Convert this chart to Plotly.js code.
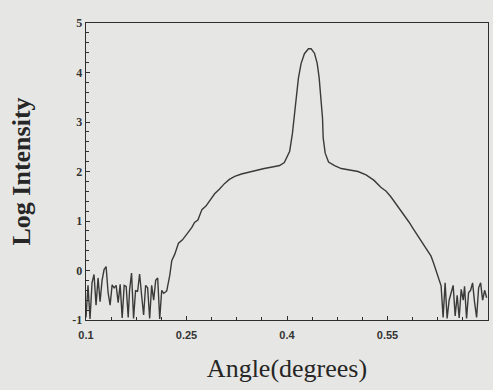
<!DOCTYPE html>
<html>
<head>
<meta charset="utf-8">
<script src="https://cdn.plot.ly/plotly-3.0.1.min.js"></script>
<style>
html,body{margin:0;padding:0;background:#e6e7e4;}
#chart{width:493px;height:390px;}
</style>
</head>
<body>
<div id="chart"></div>
<script>
// Angle (degrees) and log intensity
const angle = [
  0.100,0.103,0.106,0.109,0.112,0.115,0.118,0.121,0.124,0.127,
  0.130,0.133,0.136,0.139,0.142,0.145,0.148,0.151,0.154,0.157,
  0.160,0.163,0.165,0.168,0.171,0.174,0.177,0.180,0.183,0.186,
  0.189,0.192,0.195,0.198,0.201,0.204,0.207,0.210,0.213,0.216,
  0.219,0.2205,0.225,0.228,0.2325,0.238,0.244,0.249,0.253,0.258,
  0.262,0.267,0.273,0.279,0.285,0.292,0.299,0.307,0.314,0.322,
  0.332,0.343,0.354,0.366,0.378,0.389,0.396,0.404,0.408,0.411,
  0.414,0.417,0.421,0.426,0.432,0.436,0.441,0.445,0.448,0.451,
  0.453,0.454,0.457,0.462,0.471,0.481,0.491,0.506,0.518,0.530,
  0.540,0.548,0.555,0.564,0.575,0.582,0.588,0.596,0.602,0.607,
  0.615,0.619,0.625,0.630,0.633,0.636,0.639,0.642,0.645,0.648,
  0.651,0.654,0.657,0.660,0.663,0.665,0.668,0.671,0.674,0.677,
  0.680,0.683,0.686,0.689,0.692,0.695,0.698
];
const logIntensity = [
  -0.95,-0.30,-0.98,-0.25,-0.08,-0.70,-0.15,-0.63,-0.20,0.02,
  0.08,-0.45,-0.70,-0.29,-0.35,-0.30,-0.65,-0.28,-0.96,-0.30,
  -0.32,-0.95,-0.40,-0.05,-0.97,-0.40,-0.43,-0.07,-0.50,-0.90,
  -0.30,-0.35,-0.97,-0.30,-0.60,-0.20,-0.15,-0.98,-0.40,-0.46,
  -0.43,-0.41,-0.10,0.20,0.33,0.55,0.62,0.72,0.78,0.87,
  0.97,1.02,1.23,1.30,1.42,1.55,1.64,1.76,1.84,1.90,
  1.95,1.99,2.03,2.06,2.09,2.12,2.18,2.41,2.76,3.17,
  3.58,3.88,4.18,4.38,4.48,4.48,4.39,4.19,3.89,3.48,
  3.08,2.68,2.37,2.19,2.12,2.06,2.04,2.00,1.93,1.82,
  1.68,1.60,1.49,1.32,1.13,0.98,0.85,0.69,0.56,0.45,
  0.29,0.14,-0.11,-0.31,-0.95,-0.25,-0.97,-0.60,-0.45,-0.30,
  -0.92,-0.50,-0.96,-0.38,-0.60,-0.32,-0.97,-0.45,-0.40,-0.25,
  -0.65,-0.95,-0.35,-0.25,-0.60,-0.40,-0.55
];
const xTickVals = [0.1, 0.25, 0.4, 0.55, 0.7];
const xTickText = ["0.1", "0.25", "0.4", "0.55", "0.7"];
const yTickVals = [-1, 0, 1, 2, 3, 4, 5];
const yTickText = ["-1", "0", "1", "2", "3", "4", "5"];

const trace = {
  x: angle, y: logIntensity, type: 'scatter', mode: 'lines',
  line: {color: '#3a3a3a', width: 1.4}, hoverinfo: 'skip'
};
const axisCommon = {
  showgrid: false, zeroline: false, showline: true, mirror: true,
  linecolor: '#2e2e2e', linewidth: 1.3, ticks: 'inside', ticklen: 4,
  tickcolor: '#2e2e2e', tickwidth: 1
};
const layout = {
  width: 493, height: 390,
  paper_bgcolor: '#e6e7e4', plot_bgcolor: '#e6e7e4',
  margin: {l: 86, r: 5, t: 23, b: 70},
  showlegend: false,
  xaxis: Object.assign({}, axisCommon, {
    range: [0.1, 0.7], tickmode: 'array', tickvals: xTickVals, ticktext: xTickText,
    tickfont: {family: 'Liberation Sans, Arial, sans-serif', size: 11, color: '#333', weight: 'bold'},
    ticklabelstandoff: 4,
    minor: {dtick: 0.0375, tick0: 0.1, ticks: 'inside', ticklen: 3, tickcolor: '#2e2e2e'},
    title: {text: 'Angle(degrees)', font: {family: 'Liberation Serif, Times New Roman, serif', size: 26, color: '#262626'}, standoff: 19}
  }),
  yaxis: Object.assign({}, axisCommon, {
    range: [-1, 5], tickmode: 'array', tickvals: yTickVals, ticktext: yTickText,
    tickfont: {family: 'Liberation Serif, Times New Roman, serif', size: 12, color: '#333', weight: 'bold'},
    minor: {dtick: 0.2, tick0: -1, ticks: 'inside', ticklen: 3, tickcolor: '#2e2e2e'},
    title: {text: 'Log Intensity', font: {family: 'Liberation Serif, Times New Roman, serif', size: 26, color: '#262626', weight: 'bold'}, standoff: 34}
  })
};
Plotly.newPlot('chart', [trace], layout, {displayModeBar: false, staticPlot: true});
</script>
</body>
</html>
